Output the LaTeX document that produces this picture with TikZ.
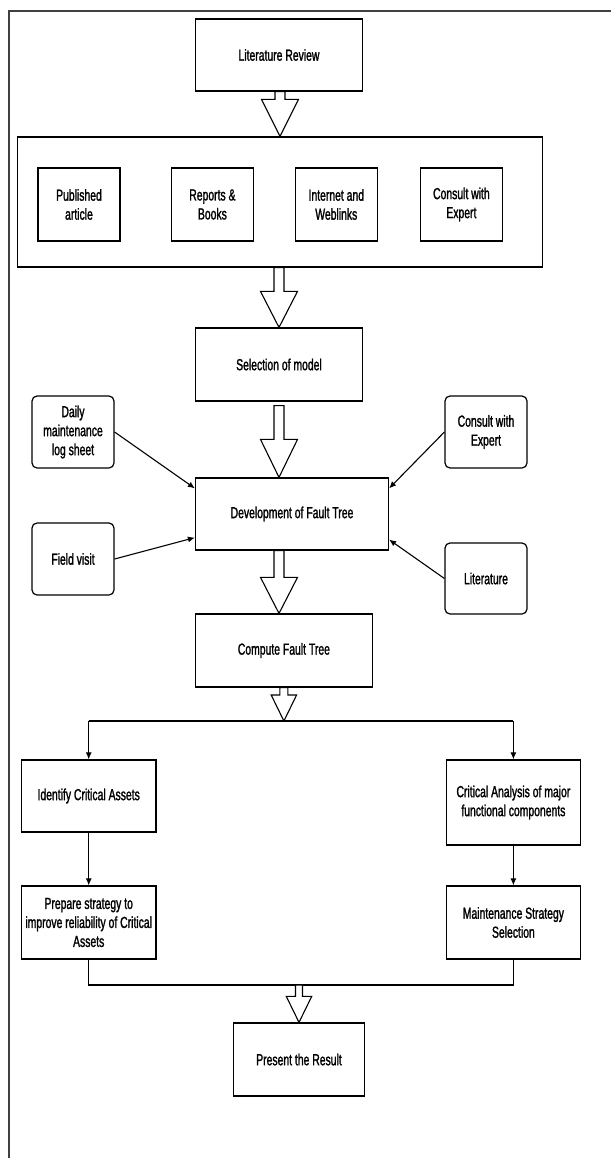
\documentclass[tikz,border=0pt]{standalone}
\usepackage{fontspec}
\setmainfont[FakeStretch=0.65, FakeBold=1.4]{Liberation Sans}
\usetikzlibrary{arrows.meta,calc}
\tikzset{
  box/.style={draw=black, line width=1.2pt, fill=white, inner sep=1pt, align=center,
    font=\fontsize{16}{19}\selectfont},
  rbox/.style={box, rounded corners=5pt},
  blockline/.style={draw=black, line width=1.1pt, fill=white, line join=miter},
  conn/.style={draw=black, line width=1.1pt},
  arr/.style={conn, -{Latex[length=7pt,width=6pt]}},
  frameline/.style={draw=black!75, line width=1.8pt}
}
\newcommand\blockarr[5]{%
  \draw[blockline] let \p1=(#1), \p2=(#2) in
   (\x2-#5pt,\y1) -- (\x2-#5pt,\y2+#3pt) -- (\x2-#4pt,\y2+#3pt) -- (\x2,\y2)
   -- (\x2+#4pt,\y2+#3pt) -- (\x2+#5pt,\y2+#3pt) -- (\x2+#5pt,\y1) -- cycle;}
\begin{document}
\begin{tikzpicture}[x=1pt,y=-1pt]
\useasboundingbox[fill=white] (0,0) rectangle (611,1158);
\draw[frameline] (9,1158) -- (9,11) -- (611,11);

% top part
\node[box, minimum width=167pt, minimum height=72pt] (lit) at (279,55) {Literature Review};
\node[box, minimum width=525pt, minimum height=130pt] (big) at (280,202) {};
\node[box, minimum width=82pt, minimum height=73pt] (pub) at (79,204.5) {Published\\article};
\node[box, minimum width=82pt, minimum height=73pt] (rep) at (212.4,204.5) {Reports \&\\Books};
\node[box, minimum width=82pt, minimum height=73pt] (int) at (336.3,204.5) {Internet and\\Weblinks};
\node[box, minimum width=82pt, minimum height=73pt] (con1) at (461.4,204.5) {Consult with\\Expert};
\node[box, minimum width=167pt, minimum height=73pt] (sel) at (279,364.5) {Selection of model};

% fault tree
\node[box, minimum width=193pt, minimum height=72pt] (dev) at (292,514) {Development of Fault Tree};
\node[rbox, minimum width=82pt, minimum height=72pt] (daily) at (73,432) {Daily\\maintenance\\log sheet};
\node[rbox, minimum width=82pt, minimum height=72pt] (con2) at (486,432) {Consult with\\Expert};
\node[rbox, minimum width=82pt, minimum height=72pt] (field) at (73,559) {Field visit};
\node[rbox, minimum width=82pt, minimum height=71pt] (litr) at (486,578.5) {Literature};
\node[box, minimum width=176.6pt, minimum height=73pt] (comp) at (283.9,650.5) {Compute Fault Tree};

% branches
\node[box, minimum width=134.5pt, minimum height=72pt] (ident) at (88.7,796) {Identify Critical Assets};
\node[box, minimum width=134.5pt, minimum height=85pt] (crit) at (513.4,802.5) {Critical Analysis of major\\functional components};
\node[box, minimum width=134.5pt, minimum height=73pt] (prep) at (88.7,922.5) {Prepare strategy to\\improve reliability of Critical\\Assets};
\node[box, minimum width=134.5pt, minimum height=73pt] (maint) at (513.4,922.5) {Maintenance Strategy\\Selection};
\node[box, minimum width=130.6pt, minimum height=73pt] (pres) at (299,1059.5) {Present the Result};

\coordinate (split) at (283.9,721);
\coordinate (join) at (299,985);
\coordinate (selgap) at ($(sel.south)+(0,4)$);

% block arrows
\blockarr{lit.south}{big.north}{37}{18.5}{5}
\blockarr{big.south}{sel.north}{36}{18.5}{5}
\blockarr{selgap}{sel.south |- dev.north}{38}{18.5}{5}
\blockarr{sel.south |- dev.south}{sel.south |- comp.north}{36}{18.5}{5}

% side inputs
\draw[arr] (daily.east) -- ($(dev.north west)+(0,11)$);
\draw[arr] (con2.west) -- ($(dev.north east)+(0,11)$);
\draw[arr] (field.east) -- ($(dev.south west)+(0,-13)$);
\draw[arr] (litr.west) -- ($(dev.south east)+(0,-11)$);

% branching
\draw[conn] (split -| ident.north) -- (split -| crit.north);
\draw[arr] (split -| ident.north) -- (ident.north);
\draw[arr] (split -| crit.north) -- (crit.north);
\blockarr{comp.south}{split}{26}{12.7}{4}
\draw[arr] (ident.south) -- (prep.north);
\draw[arr] (crit.south) -- (maint.north);
\draw[conn] (prep.south) |- (join) -| (maint.south);
\blockarr{join}{pres.north}{26}{12.7}{3.5}
\end{tikzpicture}
\end{document}
